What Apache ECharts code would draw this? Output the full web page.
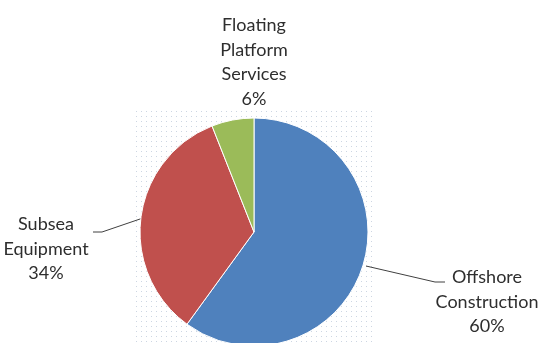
<!DOCTYPE html>
<html>
<head>
<meta charset="utf-8">
<script src="https://cdn.jsdelivr.net/npm/echarts@6/dist/echarts.min.js"></script>
<style>html,body{margin:0;padding:0;background:#fff;}#c{width:539px;height:343px;}</style>
</head>
<body>
<div id="c"></div>
<script>
const categories = ['Offshore Construction', 'Subsea Equipment', 'Floating Platform Services'];
const values = [60, 34, 6];
const labelTexts = ['Offshore\nConstruction', 'Subsea\nEquipment', 'Floating\nPlatform\nServices'];
const colors = ['#4F81BD', '#C0504D', '#9BBB59'];

const pc = document.createElement('canvas');
pc.width = 5; pc.height = 5;
const pctx = pc.getContext('2d');
pctx.fillStyle = '#cdd6e2';
pctx.fillRect(1, 1, 1, 1);

const chart = echarts.init(document.getElementById('c'), null, {renderer: 'canvas'});
const labelPos = [
  {x: 487, y: 302, line: [[366, 266], [435, 282], [445, 282]]},
  {x: 46, y: 249, line: [[143, 218], [102, 232], [93, 232]]},
  {x: 254, y: 62, line: null}
];
chart.setOption({
  animation: false,
  graphic: [{
    type: 'rect', z: -10,
    shape: {x: 136, y: 111, width: 236, height: 240},
    style: {fill: {image: pc, repeat: 'repeat'}}
  }],
  series: [{
    type: 'pie',
    center: [254, 232],
    radius: 114,
    startAngle: 90,
    clockwise: true,
    avoidLabelOverlap: false,
    itemStyle: {borderColor: '#ffffff', borderWidth: 1},
    data: categories.map((n, i) => ({
      name: n, value: values[i], itemStyle: {color: colors[i]},
      labelLine: {show: labelPos[i].line !== null}
    })),
    label: {
      show: true,
      formatter: p => labelTexts[p.dataIndex] + '\n' + values[p.dataIndex] + '%',
      fontFamily: 'Lato',
      fontSize: 18,
      lineHeight: 24.5,
      color: '#2e2e2e',
      align: 'center',
      overflow: 'none',
      width: 140
    },
    labelLine: {show: true, lineStyle: {color: '#404040', width: 1}},
    labelLayout: function (params) {
      const lp = labelPos[params.dataIndex];
      const r = {x: lp.x, y: lp.y, align: 'center', verticalAlign: 'middle'};
      if (lp.line) r.labelLinePoints = lp.line;
      return r;
    }
  }]
});
</script>
</body>
</html>
